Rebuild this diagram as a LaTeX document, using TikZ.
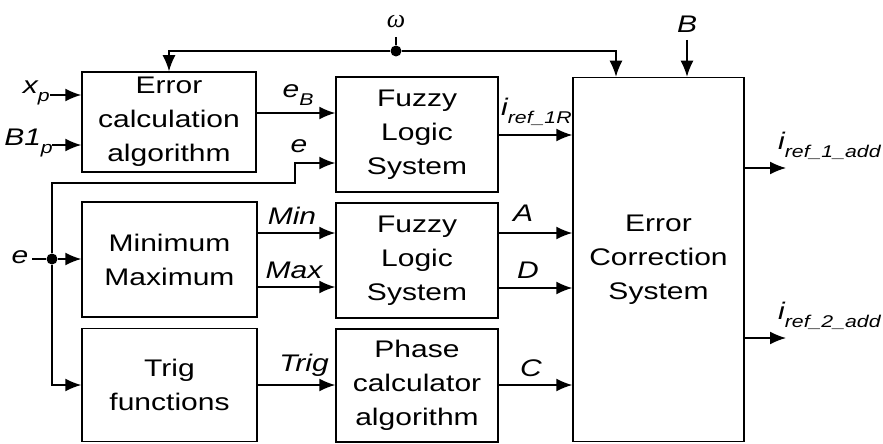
\documentclass[tikz,border=0pt]{standalone}
\usepackage{fontspec}
\setmainfont[FakeStretch=1.25]{Liberation Sans}
\newfontfamily\omfont{Liberation Serif}
\usetikzlibrary{arrows.meta}
\newcommand{\subx}[1]{\raisebox{-8pt}{\fontsize{17}{17}\selectfont #1}}
\begin{document}
\begin{tikzpicture}[x=1pt,y=-1pt,
  blk/.style={draw,line width=1.5pt,align=center,inner sep=0pt,font=\fontsize{24}{34}\selectfont},
  arr/.style={line width=1.5pt,-{Latex[length=16pt,width=13pt]}},
  ln/.style={line width=1.5pt},
  lbl/.style={inner sep=0pt,font=\fontsize{24}{28}\selectfont\itshape},
  dotn/.style={circle,fill,inner sep=0pt,minimum size=11pt}]
\useasboundingbox (0,0) rectangle (883,444);
% blocks
\node[blk,minimum width=174pt,minimum height=100pt] (err) at (169,122) {Error\\calculation\\algorithm};
\node[blk,minimum width=162pt,minimum height=115pt] (fz1) at (417,134.5) {Fuzzy\\Logic\\System};
\node[blk,minimum width=175pt,minimum height=115pt] (mm) at (169.5,259.5) {Minimum\\Maximum};
\node[blk,minimum width=162pt,minimum height=115pt] (fz2) at (417,260.5) {Fuzzy\\Logic\\System};
\node[blk,minimum width=175pt,minimum height=113pt] (trig) at (169.5,385) {Trig\\functions};
\node[blk,minimum width=162pt,minimum height=113pt] (ph) at (417,385.5) {Phase\\calculator\\algorithm};
\node[blk,minimum width=171pt,minimum height=364pt] (ecs) at (658.5,259.5) {Error\\Correction\\System};
% top feedback with omega
\node[dotn] (om) at (396,51) {};
\coordinate (omt) at (396,37);
\node[inner sep=0pt] (oml) at (396,22) {\fontsize{26}{26}\selectfont\omfont\itshape ω};
\draw[ln] (om) -- (omt);
\draw[arr] (om) -| (err.north);
\draw[arr] (om) -| (ecs.north -| 616,0);
% B input
\coordinate (bin) at (687,40);
\node[lbl] (bl) at (687,24) {B};
\draw[arr] (bin) -- (ecs.north -| bin);
% x_p and B1_p inputs
\coordinate (xpin) at (50,95);
\coordinate (b1in) at (52,145);
\node[lbl,anchor=east] (xpl) at (50,93) {x\subx{p}};
\node[lbl,anchor=east] (b1l) at (53,143) {B1\subx{p}};
\draw[arr] (xpin) -- (xpin -| err.west);
\draw[arr] (b1in) -- (b1in -| err.west);
% e_B
\draw[arr] (err.east |- 0,113) -- (fz1.west |- 0,113);
\node[lbl] (ebl) at (298,95) {e\subx{B}};
% e input and junction
\coordinate (ein) at (32,259);
\node[lbl] (el) at (20,257) {e};
\node[dotn] (ej) at (52,259) {};
\draw[ln] (ein) -- (ej);
\draw[arr] (ej) -- (mm.west |- ej);
\draw[arr] (ej) |- (trig.west |- 0,385);
\coordinate (ec1) at (295,183);
\draw[arr] (ej) |- (ec1) |- (fz1.west |- 0,163);
\node[lbl] (el2) at (299,146) {e};
% Min / Max / Trig
\draw[arr] (mm.east |- 0,233) -- (fz2.west |- 0,233);
\node[lbl] (minl) at (292,216) {Min};
\draw[arr] (mm.east |- 0,287) -- (fz2.west |- 0,287);
\node[lbl] (maxl) at (294,270) {Max};
\draw[arr] (trig.east |- 0,385) -- (ph.west |- 0,385);
\node[lbl] (trigl) at (304,365) {Trig};
% into ECS
\draw[arr] (fz1.east |- 0,135) -- (ecs.west |- 0,135);
\node[lbl,anchor=south west] (irl) at (501,126) {i\subx{ref\_1R}};
\draw[arr] (fz2.east |- 0,233) -- (ecs.west |- 0,233);
\node[lbl] (al) at (523,213) {A};
\draw[arr] (fz2.east |- 0,288) -- (ecs.west |- 0,288);
\node[lbl] (dl) at (528,270) {D};
\draw[arr] (ph.east |- 0,385) -- (ecs.west |- 0,385);
\node[lbl] (cl) at (531,368) {C};
% outputs
\coordinate (o1) at (786,168);
\coordinate (o2) at (786,338);
\draw[arr] (ecs.east |- o1) -- (o1);
\draw[arr] (ecs.east |- o2) -- (o2);
\node[lbl,anchor=south west] (o1l) at (778,160) {i\subx{ref\_1\_add}};
\node[lbl,anchor=south west] (o2l) at (778,330) {i\subx{ref\_2\_add}};
\end{tikzpicture}
\end{document}
